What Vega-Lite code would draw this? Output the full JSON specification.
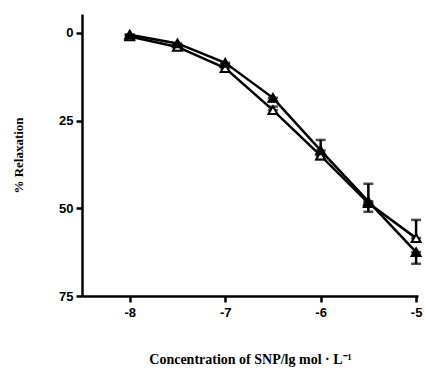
{
  "$schema": "https://vega.github.io/schema/vega-lite/v6.json",
  "autosize": "none",
  "padding": {"left": 82, "top": 14, "right": 7, "bottom": 80},
  "width": 336,
  "height": 282,
  "background": "white",
  "config": {"view": {"stroke": null}},
  "data": {"values": [
    {"series": "B", "x": -8, "y": 1, "lo": 0.5, "hi": 1},
    {"series": "B", "x": -7.5, "y": 4, "lo": 3.5, "hi": 4},
    {"series": "B", "x": -7, "y": 10, "lo": 9.5, "hi": 10},
    {"series": "B", "x": -6.5, "y": 22, "lo": 21, "hi": 22},
    {"series": "B", "x": -6, "y": 35, "lo": 30.5, "hi": 35},
    {"series": "B", "x": -5.5, "y": 48.5, "lo": 43, "hi": 48.5},
    {"series": "B", "x": -5, "y": 58.5, "lo": 53.3, "hi": 58.5},
    {"series": "A", "x": -8, "y": 0.5, "lo": 0.5, "hi": 1.5},
    {"series": "A", "x": -7.5, "y": 3, "lo": 3, "hi": 3.5},
    {"series": "A", "x": -7, "y": 8.5, "lo": 8.5, "hi": 9},
    {"series": "A", "x": -6.5, "y": 18.5, "lo": 18.5, "hi": 19.5},
    {"series": "A", "x": -6, "y": 33.5, "lo": 33.5, "hi": 36},
    {"series": "A", "x": -5.5, "y": 48, "lo": 48, "hi": 51},
    {"series": "A", "x": -5, "y": 62.5, "lo": 62.5, "hi": 65.8}
  ]},
  "encoding": {
    "x": {
      "field": "x", "type": "quantitative",
      "scale": {"domain": [-8.5, -4.98], "nice": false, "zero": false},
      "axis": {
        "values": [-8, -7, -6, -5], "grid": false,
        "labelExpr": "datum.value < 0 ? '-' + (-datum.value) : '' + datum.value",
        "domainColor": "black", "domainWidth": 2.5, "tickColor": "black", "tickWidth": 2.5, "tickSize": 6,
        "labelFont": "Liberation Sans", "labelFontSize": 13, "labelFontWeight": "bold", "labelColor": "black", "labelPadding": 4,
        "title": "Concentration of SNP/lg mol · L⁻¹",
        "titleFont": "Liberation Serif", "titleFontSize": 14, "titleFontWeight": "bold", "titleColor": "black", "titlePadding": 33
      }
    },
    "y": {
      "field": "y", "type": "quantitative",
      "scale": {"domain": [-5.4, 75], "nice": false, "zero": false, "reverse": true},
      "axis": {
        "values": [0, 25, 50, 75], "grid": false,
        "domainColor": "black", "domainWidth": 2.5, "tickColor": "black", "tickWidth": 2.5, "tickSize": 6,
        "labelFont": "Liberation Sans", "labelFontSize": 13, "labelFontWeight": "bold", "labelColor": "black", "labelPadding": 3,
        "title": "% Relaxation",
        "titleFont": "Liberation Serif", "titleFontSize": 13, "titleFontWeight": "bold", "titleColor": "black", "titlePadding": 33
      }
    }
  },
  "layer": [
    {
      "mark": {"type": "errorbar", "ticks": {"size": 10, "thickness": 2.5, "color": "black"}, "rule": {"strokeWidth": 2.5, "color": "black"}},
      "encoding": {
        "y": {"field": "lo", "type": "quantitative"},
        "y2": {"field": "hi"},
        "detail": {"field": "series"}
      }
    },
    {
      "mark": {"type": "line", "color": "black", "strokeWidth": 2.5},
      "encoding": {"detail": {"field": "series"}}
    },
    {
      "mark": {"type": "point", "shape": "triangle-up", "size": 80, "filled": true, "strokeWidth": 2},
      "encoding": {
        "fill": {"field": "series", "type": "nominal", "scale": {"domain": ["A", "B"], "range": ["black", "white"]}, "legend": null},
        "stroke": {"value": "black"},
        "opacity": {"value": 1}
      }
    }
  ]
}
